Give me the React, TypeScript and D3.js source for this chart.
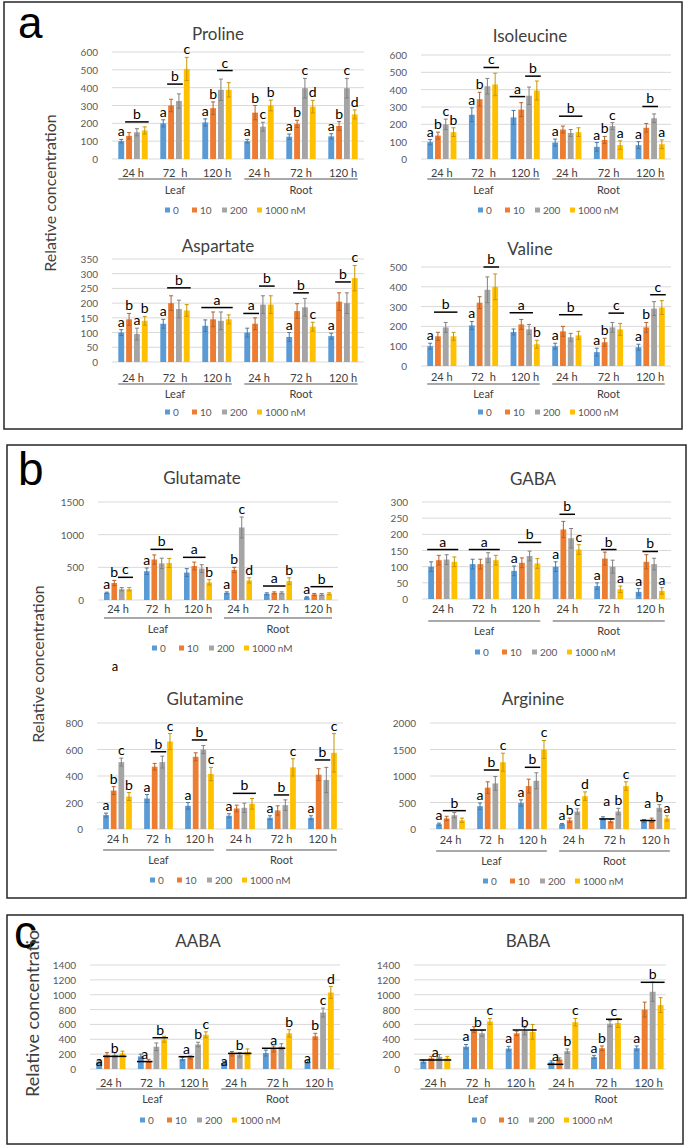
import React from "react";
import * as d3 from "d3";

// ---------- shared labels ----------
const SERIES = ["0", "10", "200", "1000 nM"];
const COLORS = ["#5B9BD5", "#ED7D31", "#A5A5A5", "#FFC000"];
const TIMES = ["24 h", "72\u00a0 h", "120 h", "24 h", "72 h", "120 h"];
const TISSUES = ["Leaf", "Root"];

// ---------- data (rows = Leaf 24/72/120 h, Root 24/72/120 h; cols = 0,10,200,1000 nM) ----------
const prolineTicks = [0, 100, 200, 300, 400, 500, 600];
const prolineMeans = [[100, 130, 150, 160], [200, 300, 325, 505], [205, 285, 388, 388], [100, 260, 181, 300], [125, 197, 397, 294], [127, 185, 397, 250]];
const prolineErrs = [[10, 18, 20, 20], [20, 35, 40, 65], [20, 35, 60, 40], [10, 40, 25, 30], [15, 20, 55, 35], [15, 25, 55, 25]];
const prolineLetters = [
  [0, 0, 0, null, "a"], [0, 1, 3, 208, "b"],
  [1, 0, 0, null, "a"], [1, 1, 2, 420, "b"], [1, 3, 3, null, "c"],
  [2, 0, 0, null, "a"], [2, 1, 1, null, "b"], [2, 2, 3, 496, "c"],
  [3, 0, 0, null, "a"], [3, 1, 1, null, "b"], [3, 2, 2, null, "c"], [3, 3, 3, null, "b"],
  [4, 0, 0, null, "a"], [4, 1, 1, null, "b"], [4, 2, 2, null, "c"], [4, 3, 3, null, "d"],
  [5, 0, 0, null, "a"], [5, 1, 1, null, "b"], [5, 2, 2, null, "c"], [5, 3, 3, null, "d"],
];

const isoleucineTicks = [0, 100, 200, 300, 400, 500, 600];
const isoleucineMeans = [[97, 135, 200, 155], [255, 345, 420, 430], [240, 285, 365, 395], [95, 170, 150, 155], [70, 110, 190, 80], [80, 180, 235, 85]];
const isoleucineErrs = [[15, 20, 30, 25], [40, 40, 45, 65], [40, 40, 50, 55], [20, 20, 20, 25], [25, 20, 20, 25], [20, 25, 25, 25]];
const isoleucineLetters = [
  [0, 0, 0, null, "a"], [0, 1, 1, null, "b"], [0, 2, 2, null, "c"], [0, 3, 3, null, "b"],
  [1, 0, 0, null, "a"], [1, 1, 1, null, "b"], [1, 2, 3, 528, "c"],
  [2, 0, 1, 360, "a"], [2, 2, 3, 478, "b"],
  [3, 0, 0, null, "a"], [3, 1, 3, 247, "b"],
  [4, 0, 0, null, "a"], [4, 1, 1, null, "b"], [4, 2, 2, null, "c"], [4, 3, 3, null, "a"],
  [5, 0, 0, null, "a"], [5, 1, 2, 303, "b"], [5, 3, 3, null, "a"],
];

const aspartateTicks = [0, 50, 100, 150, 200, 250, 300, 350];
const aspartateMeans = [[100, 145, 95, 140], [130, 200, 180, 175], [123, 145, 140, 145], [100, 130, 195, 195], [85, 173, 186, 120], [88, 205, 200, 285]];
const aspartateErrs = [[10, 20, 20, 15], [15, 25, 30, 20], [20, 25, 30, 15], [15, 20, 30, 30], [15, 25, 30, 15], [10, 30, 35, 43]];
const aspartateLetters = [
  [0, 0, 0, null, "a"], [0, 1, 1, null, "b"], [0, 2, 2, null, "a"], [0, 3, 3, null, "b"],
  [1, 0, 0, null, "a"], [1, 1, 3, 252, "b"],
  [2, 0, 3, 185, "a"],
  [3, 0, 1, 165, "a"], [3, 2, 3, 258, "b"],
  [4, 0, 0, null, "a"], [4, 1, 2, 235, "b"], [4, 3, 3, null, "c"],
  [5, 0, 0, null, "a"], [5, 1, 2, 272, "b"], [5, 3, 3, null, "c"],
];

const valineTicks = [0, 100, 200, 300, 400, 500];
const valineMeans = [[100, 150, 195, 150], [205, 320, 385, 400], [172, 210, 185, 110], [100, 175, 145, 155], [70, 120, 195, 185], [95, 195, 290, 295]];
const valineErrs = [[15, 20, 25, 20], [20, 30, 65, 65], [15, 25, 25, 20], [15, 25, 20, 20], [20, 20, 25, 30], [15, 25, 35, 35]];
const valineLetters = [
  [0, 0, 0, null, "a"], [0, 1, 3, 272, "b"],
  [1, 0, 0, null, "a"], [1, 2, 3, 500, "b"],
  [2, 0, 2, 269, "a"], [2, 3, 3, null, "b"],
  [3, 0, 0, null, "a"], [3, 1, 3, 259, "b"],
  [4, 0, 0, null, "a"], [4, 1, 1, null, "b"], [4, 2, 3, 267, "c"],
  [5, 0, 0, null, "a"], [5, 1, 1, null, "b"], [5, 2, 3, 360, "c"],
];

const glutamateTicks = [0, 500, 1000, 1500];
const glutamateMeans = [[110, 260, 165, 165], [440, 620, 560, 567], [420, 520, 480, 270], [110, 460, 1110, 300], [95, 110, 110, 290], [40, 85, 85, 95]];
const glutamateErrs = [[10, 40, 25, 25], [50, 70, 80, 70], [60, 60, 60, 40], [15, 40, 160, 40], [15, 15, 15, 50], [10, 15, 15, 15]];
const glutamateLetters = [
  [0, 0, 0, null, "a"], [0, 1, 1, null, "b"], [0, 2, 3, 347, "c"],
  [1, 0, 0, null, "a"], [1, 1, 3, 775, "b"],
  [2, 0, 2, 653, "a"], [2, 3, 3, null, "b"],
  [3, 0, 0, null, "a"], [3, 1, 1, null, "b"], [3, 2, 2, null, "c"], [3, 3, 3, null, "d"],
  [4, 0, 2, 214, "a"], [4, 3, 3, null, "b"],
  [5, 0, 0, null, "a"], [5, 1, 3, 204, "b"],
];

const gabaTicks = [0, 50, 100, 150, 200, 250, 300];
const gabaMeans = [[100, 120, 122, 115], [108, 108, 128, 120], [87, 112, 133, 110], [100, 215, 188, 153], [40, 125, 100, 30], [22, 115, 108, 25]];
const gabaErrs = [[15, 15, 15, 15], [15, 15, 15, 15], [15, 15, 15, 15], [15, 25, 30, 15], [10, 20, 20, 10], [10, 22, 18, 10]];
const gabaLetters = [
  [0, 0, 3, 153, "a"], [1, 0, 3, 153, "a"],
  [2, 0, 0, null, "a"], [2, 1, 3, 175, "b"],
  [3, 0, 0, null, "a"], [3, 1, 2, 262, "b"], [3, 3, 3, null, "c"],
  [4, 0, 0, null, "a"], [4, 1, 2, 153, "b"], [4, 3, 3, null, "a"],
  [5, 0, 0, null, "a"], [5, 1, 2, 147, "b"], [5, 3, 3, null, "a"],
];

const glutamineTicks = [0, 200, 400, 600, 800];
const glutamineMeans = [[105, 290, 505, 245], [230, 470, 505, 660], [175, 545, 600, 415], [100, 155, 160, 190], [85, 140, 180, 465], [85, 410, 370, 575]];
const glutamineErrs = [[15, 30, 30, 30], [30, 25, 45, 60], [25, 30, 30, 50], [15, 25, 35, 40], [15, 35, 40, 65], [15, 45, 95, 145]];
const glutamineLetters = [
  [0, 0, 0, null, "a"], [0, 1, 1, null, "b"], [0, 2, 2, null, "c"], [0, 3, 3, null, "b"],
  [1, 0, 0, null, "a"], [1, 1, 2, 583, "b"], [1, 3, 3, null, "c"],
  [2, 0, 0, null, "a"], [2, 1, 2, 672, "b"], [2, 3, 3, null, "c"],
  [3, 0, 0, null, "a"], [3, 1, 3, 269, "b"],
  [4, 0, 0, null, "a"], [4, 1, 2, 257, "b"], [4, 3, 3, null, "c"],
  [5, 0, 0, null, "a"], [5, 1, 2, 521, "b"], [5, 3, 3, null, "c"],
];

const arginineTicks = [0, 500, 1000, 1500, 2000];
const arginineMeans = [[90, 200, 260, 165], [430, 780, 860, 1260], [490, 810, 910, 1500], [90, 165, 330, 620], [200, 150, 330, 810], [150, 165, 400, 200]];
const arginineErrs = [[20, 40, 50, 40], [60, 110, 130, 170], [60, 130, 150, 170], [15, 40, 50, 80], [30, 30, 60, 80], [30, 40, 60, 50]];
const arginineLetters = [
  [0, 0, 0, null, "a"], [0, 1, 3, 346, "b"],
  [1, 0, 0, null, "a"], [1, 1, 2, 1113, "b"], [1, 3, 3, null, "c"],
  [2, 0, 0, null, "a"], [2, 1, 2, 1164, "b"], [2, 3, 3, null, "c"],
  [3, 0, 0, null, "a"], [3, 1, 1, null, "b"], [3, 2, 2, null, "c"], [3, 3, 3, null, "d"],
  [4, 0, 1, 190, "a", 400], [4, 2, 2, null, "b"], [4, 3, 3, null, "c"],
  [5, 0, 1, 160, "a", 360], [5, 2, 2, null, "b"], [5, 3, 3, null, "a"],
];

const aabaTicks = [0, 200, 400, 600, 800, 1000, 1200, 1400];
const aabaMeans = [[100, 190, 188, 210], [170, 110, 300, 400], [135, 155, 330, 460], [80, 205, 190, 230], [215, 270, 300, 480], [95, 440, 760, 1030]];
const aabaErrs = [[20, 30, 30, 30], [30, 20, 50, 40], [20, 20, 30, 40], [20, 30, 30, 40], [40, 40, 40, 50], [20, 40, 60, 80]];
const aabaLetters = [
  [0, 0, 0, null, "a", 15], [0, 1, 3, 170, "b"],
  [1, 0, 1, 100, "a"], [1, 2, 3, 421, "b"],
  [2, 0, 1, 166, "a"], [2, 2, 2, null, "b"], [2, 3, 3, null, "c"],
  [3, 0, 0, null, "a", 15], [3, 1, 3, 210, "b"],
  [4, 0, 2, 279, "a"], [4, 3, 3, null, "b"],
  [5, 0, 0, null, "a", 50], [5, 1, 1, null, "b"], [5, 2, 2, null, "c"], [5, 3, 3, null, "d"],
];

const babaTicks = [0, 200, 400, 600, 800, 1000, 1200, 1400];
const babaMeans = [[100, 145, 165, 145], [300, 530, 480, 640], [275, 480, 510, 500], [90, 130, 240, 630], [160, 280, 610, 620], [280, 800, 1040, 860]];
const babaErrs = [[20, 25, 30, 25], [30, 40, 40, 40], [30, 30, 50, 100], [20, 20, 30, 50], [20, 30, 40, 60], [30, 100, 130, 100]];
const babaLetters = [
  [0, 0, 3, 121, "a"],
  [1, 0, 0, null, "a"], [1, 1, 2, 525, "b"], [1, 3, 3, null, "c"],
  [2, 0, 0, null, "a"], [2, 1, 3, 525, "b"],
  [3, 0, 1, 63, "a"], [3, 2, 2, null, "b"], [3, 3, 3, null, "c"],
  [4, 0, 0, null, "a"], [4, 1, 1, null, "b"], [4, 2, 3, 669, "c"],
  [5, 0, 0, null, "a"], [5, 1, 3, 1167, "b"],
];

// ---------- layout (pixel positions of each chart) ----------
const LAYOUT = {
  Proline: { left: 112, right: 364, top: 52, zero: 159, titleX: 218, titleY: 33, labelY: 172, lineY: 179, groupY: 189, legendX: 165, legendY: 210 },
  Isoleucine: { left: 421, right: 671, top: 55, zero: 159, titleX: 530, titleY: 35, labelY: 172, lineY: 179, groupY: 189, legendX: 478, legendY: 210 },
  Aspartate: { left: 112, right: 364, top: 259, zero: 362, titleX: 218, titleY: 245, labelY: 377, lineY: 384, groupY: 393, legendX: 165, legendY: 412 },
  Valine: { left: 421, right: 671, top: 267, zero: 366, titleX: 530, titleY: 248, labelY: 376, lineY: 384, groupY: 393, legendX: 478, legendY: 412 },
  Glutamate: { left: 98, right: 338, top: 502, zero: 600, titleX: 202, titleY: 477, labelY: 608, lineY: 618, groupY: 628, legendX: 152, legendY: 648 },
  GABA: { left: 422, right: 671, top: 502, zero: 599, titleX: 533, titleY: 478, labelY: 608, lineY: 621, groupY: 630, legendX: 475, legendY: 652 },
  Glutamine: { left: 97, right: 343, top: 723, zero: 829, titleX: 205, titleY: 698, labelY: 838, lineY: 850, groupY: 859, legendX: 150, legendY: 880 },
  Arginine: { left: 430, right: 676, top: 723, zero: 829, titleX: 533, titleY: 698, labelY: 839, lineY: 851, groupY: 860, legendX: 483, legendY: 881 },
  AABA: { left: 90, right: 340, top: 965, zero: 1069, titleX: 198, titleY: 940, labelY: 1082, lineY: 1089, groupY: 1098, legendX: 140, legendY: 1120 },
  BABA: { left: 414, right: 670, top: 965, zero: 1069, titleX: 528, titleY: 940, labelY: 1082, lineY: 1089, groupY: 1098, legendX: 472, legendY: 1120, clip: 666 },
};

const CHARTS = [
  { title: "Proline", ticks: prolineTicks, means: prolineMeans, errs: prolineErrs, letters: prolineLetters },
  { title: "Isoleucine", ticks: isoleucineTicks, means: isoleucineMeans, errs: isoleucineErrs, letters: isoleucineLetters },
  { title: "Aspartate", ticks: aspartateTicks, means: aspartateMeans, errs: aspartateErrs, letters: aspartateLetters },
  { title: "Valine", ticks: valineTicks, means: valineMeans, errs: valineErrs, letters: valineLetters },
  { title: "Glutamate", ticks: glutamateTicks, means: glutamateMeans, errs: glutamateErrs, letters: glutamateLetters },
  { title: "GABA", ticks: gabaTicks, means: gabaMeans, errs: gabaErrs, letters: gabaLetters },
  { title: "Glutamine", ticks: glutamineTicks, means: glutamineMeans, errs: glutamineErrs, letters: glutamineLetters },
  { title: "Arginine", ticks: arginineTicks, means: arginineMeans, errs: arginineErrs, letters: arginineLetters },
  { title: "AABA", ticks: aabaTicks, means: aabaMeans, errs: aabaErrs, letters: aabaLetters },
  { title: "BABA", ticks: babaTicks, means: babaMeans, errs: babaErrs, letters: babaLetters },
];

const LEGEND_OFFSETS = [0, 27, 57, 92];
const FONT = "Lato, 'Open Sans', sans-serif";

function Chart({ spec, box }) {
  const { ticks, means, errs, letters, title } = spec;
  const y = d3.scaleLinear().domain([0, ticks[ticks.length - 1]]).range([box.zero, box.top]);
  const x0 = d3.scaleBand().domain(d3.range(TIMES.length)).range([box.left, box.right]).paddingInner(0.3).paddingOuter(0.15);
  const x1 = d3.scaleBand().domain(d3.range(SERIES.length)).range([0, x0.bandwidth()]).paddingInner(0.25);
  const bw = x1.bandwidth();
  const clipId = "clip-" + title;
  const errColor = COLORS.map((c) => d3.color(c).darker(0.7).formatHex());

  return (
    <g clipPath={box.clip ? `url(#${clipId})` : undefined}>
      {box.clip && (
        <defs>
          <clipPath id={clipId}>
            <rect x={0} y={0} width={box.clip} height={1147} />
          </clipPath>
        </defs>
      )}
      <text x={box.titleX} y={box.titleY} textAnchor="middle" dominantBaseline="central" fontSize={17} fill="#404040">
        {title}
      </text>
      {ticks.map((t) => (
        <g key={t}>
          <line x1={box.left} x2={box.right} y1={y(t)} y2={y(t)} stroke="#D9D9D9" strokeWidth={1} />
          <text x={box.left - 14} y={y(t)} textAnchor="end" dominantBaseline="central" fontSize={10} fill="#595959">
            {t}
          </text>
        </g>
      ))}
      {means.map((row, c) =>
        row.map((v, s) => {
          const bx = x0(c) + x1(s);
          const e = errs[c][s];
          const cx = bx + bw / 2;
          return (
            <g key={c + "-" + s}>
              <rect x={bx} y={y(v)} width={bw} height={y(0) - y(v)} fill={COLORS[s]} />
              <line x1={cx} x2={cx} y1={y(v - e)} y2={y(v + e)} stroke={errColor[s]} strokeWidth={1} />
              <line x1={cx - 2} x2={cx + 2} y1={y(v + e)} y2={y(v + e)} stroke={errColor[s]} strokeWidth={1} />
              <line x1={cx - 2} x2={cx + 2} y1={y(v - e)} y2={y(v - e)} stroke={errColor[s]} strokeWidth={1} />
            </g>
          );
        })
      )}
      {letters.map((a, i) => {
        const [c, s0, s1, lv, txt, tv] = a;
        const xa = x0(c) + x1(s0);
        const xb = x0(c) + x1(s1) + bw;
        const xm = (xa + xb) / 2;
        let ty;
        if (tv != null) ty = y(tv) - 2;
        else if (lv != null) ty = y(lv) - 3;
        else ty = y(means[c][s0] + errs[c][s0]) - 3;
        return (
          <g key={"l" + i}>
            {lv != null && <line x1={xa - 1} x2={xb + 1} y1={y(lv)} y2={y(lv)} stroke="#000" strokeWidth={1.5} />}
            <text x={xm} y={ty} textAnchor="middle" fontSize={14} fill="#000">
              {txt}
            </text>
          </g>
        );
      })}
      {TIMES.map((t, i) => (
        <text key={"t" + i} x={x0(i) + x0.bandwidth() / 2} y={box.labelY} textAnchor="middle" dominantBaseline="central" fontSize={11} fill="#404040" style={{ whiteSpace: "pre" }}>
          {t}
        </text>
      ))}
      {TISSUES.map((g, gi) => {
        const xa = x0(gi * 3);
        const xb = x0(gi * 3 + 2) + x0.bandwidth();
        return (
          <g key={g}>
            <line x1={xa} x2={xb} y1={box.lineY} y2={box.lineY} stroke="#8C8C8C" strokeWidth={1.5} />
            <text x={(xa + xb) / 2} y={box.groupY} textAnchor="middle" dominantBaseline="central" fontSize={11} fill="#404040">
              {g}
            </text>
          </g>
        );
      })}
      {SERIES.map((s, i) => (
        <g key={s} transform={`translate(${box.legendX + LEGEND_OFFSETS[i]},${box.legendY})`}>
          <rect x={0} y={-2.5} width={5} height={5} fill={COLORS[i]} />
          <text x={8} y={0} dominantBaseline="central" fontSize={10} fill="#595959">
            {s}
          </text>
        </g>
      ))}
    </g>
  );
}

export default function App() {
  return (
    <svg width={688} height={1147} style={{ position: "absolute", left: 0, top: 0, display: "block" }} fontFamily={FONT}>
      <rect x={0} y={0} width={688} height={1147} fill="#fff" />
      <rect x={4} y={2} width={678} height={427} fill="none" stroke="#262626" strokeWidth={1.5} />
      <rect x={7} y={445} width={679} height={453} fill="none" stroke="#262626" strokeWidth={1.5} />
      <rect x={7} y={915} width={676} height={229} fill="none" stroke="#262626" strokeWidth={1.5} />
      <text x={18} y={38} fontSize={44} fontFamily="'Liberation Sans', Arial, sans-serif" fill="#000">a</text>
      <text x={18} y={485} fontSize={46} fontFamily="'Liberation Sans', Arial, sans-serif" fill="#000">b</text>
      <text x={14} y={948} fontSize={46} fontFamily="'Liberation Sans', Arial, sans-serif" fill="#000">c</text>
      <text transform="translate(49,193) rotate(-90)" textAnchor="middle" dominantBaseline="central" fontSize={16} fill="#404040">
        Relative concentration
      </text>
      <text transform="translate(37,664) rotate(-90)" textAnchor="middle" dominantBaseline="central" fontSize={16} fill="#404040">
        Relative concentration
      </text>
      <text transform="translate(32,1097) rotate(-90)" textAnchor="start" dominantBaseline="central" fontSize={18} fill="#404040">
        Relative concentratio
      </text>
      <text x={115} y={671} textAnchor="middle" fontSize={13} fill="#000">a</text>
      {CHARTS.map((spec) => (
        <Chart key={spec.title} spec={spec} box={LAYOUT[spec.title]} />
      ))}
    </svg>
  );
}
